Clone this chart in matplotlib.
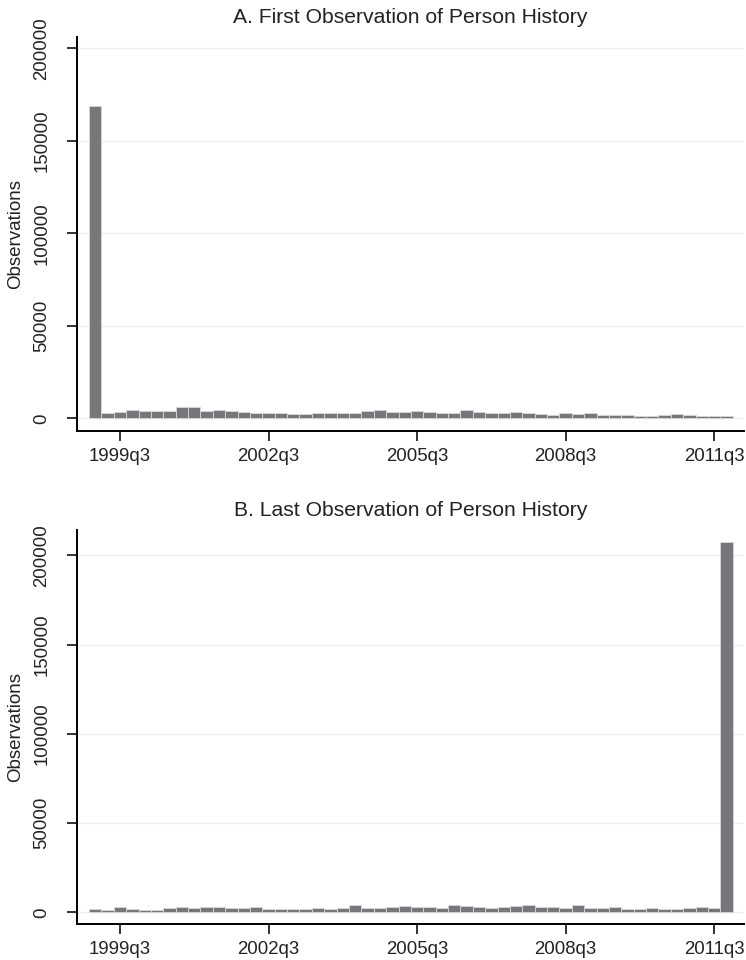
import numpy as np
import matplotlib
matplotlib.use("Agg")
import matplotlib.pyplot as plt

plt.rcParams["font.family"] = ["Liberation Sans", "DejaVu Sans"]

# quarters 1999q1 .. 2011q4, one bar per quarter
quarters = [f"{y}q{q}" for y in range(1999, 2012) for q in range(1, 5)]

# observations per quarter
first_obs = [169000, 2900, 3400, 4500, 4000, 4000, 4000, 6300, 6300, 4000,
             4500, 4000, 3400, 2900, 2900, 2900, 2300, 2300, 2900, 2900,
             2900, 3000, 4000, 4500, 3400, 3400, 4000, 3400, 2900, 2900,
             4500, 3400, 2900, 2900, 3400, 2900, 2300, 1800, 2900, 2300,
             2900, 1800, 1800, 1800, 1300, 1300, 1800, 2300, 1800, 1300,
             1300, 1300]
last_obs = [1700, 1300, 2800, 1700, 1300, 1300, 2200, 2800, 2200, 2800,
            2800, 2200, 2200, 2800, 1900, 1900, 1900, 1700, 2200, 1900,
            2600, 3900, 2600, 2600, 3000, 3400, 2800, 2800, 2200, 4100,
            3500, 3200, 2200, 3200, 3500, 4100, 3000, 3000, 2200, 4100,
            2200, 2200, 2800, 1900, 1900, 2200, 1700, 1700, 2200, 2800,
            2200, 207500]

tick_labels = ["1999q3", "2002q3", "2005q3", "2008q3", "2011q3"]
y_ticks = [0, 50000, 100000, 150000, 200000]

titles = ["A. First Observation of Person History",
          "B. Last Observation of Person History"]

bar_color = "#76777b"

fig = plt.figure(figsize=(7.46, 9.6), dpi=100)
ax_a = fig.add_axes([0.1032, 0.551, 0.894, 0.4105])
ax_b = fig.add_axes([0.1032, 0.0375, 0.894, 0.4105])

x = np.arange(len(quarters))
tick_pos = [quarters.index(t) for t in tick_labels]

for ax, vals, title, ylim in [(ax_a, first_obs, titles[0], (-6860, 206100)),
                              (ax_b, last_obs, titles[1], (-6560, 214300))]:
    ax.bar(x, vals, width=1.0, color=bar_color, edgecolor="#d8d8d8",
           linewidth=0.6, zorder=3)
    ax.set_xlim(-1.47, 52.4)
    ax.set_ylim(*ylim)
    ax.set_yticks(y_ticks)
    ax.set_yticklabels([str(v) for v in y_ticks], rotation=90, va="center")
    ax.set_xticks(tick_pos)
    ax.set_xticklabels(tick_labels)
    for v in y_ticks:
        ax.axhline(v, color="#efefef", linewidth=1.0, zorder=1)
    ax.spines["top"].set_visible(False)
    ax.spines["right"].set_visible(False)
    ax.spines["left"].set_linewidth(1.4)
    ax.spines["bottom"].set_linewidth(1.4)
    ax.tick_params(axis="both", direction="out", length=7, width=1.3,
                   labelsize=13.4, colors="#222222")
    ax.tick_params(axis="y", pad=12)
    ax.tick_params(axis="x", pad=5)
    ax.set_ylabel("Observations", fontsize=13.5, color="#222222")
    ax.yaxis.set_label_coords(-0.08, 0.5)
    ax.set_title(title, fontsize=15.2, pad=10, color="#222222")

fig.savefig("out.png", dpi=100)
